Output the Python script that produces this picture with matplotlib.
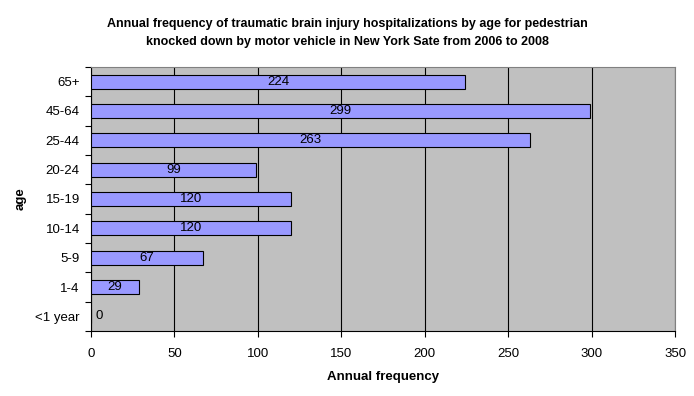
import matplotlib
matplotlib.use("Agg")
import matplotlib.pyplot as plt
import numpy as np

# data, bottom to top as drawn
age_groups = ["<1 year", "1-4", "5-9", "10-14", "15-19", "20-24", "25-44", "45-64", "65+"]
frequency = [0, 29, 67, 120, 120, 99, 263, 299, 224]
x_ticks = [0, 50, 100, 150, 200, 250, 300, 350]

plt.rcParams["font.family"] = ["Liberation Sans", "DejaVu Sans"]

fig = plt.figure(figsize=(6.94, 3.96), dpi=100)
ax = fig.add_axes([0.131, 0.164, 0.842, 0.667])
ax.set_facecolor("#C0C0C0")

y = np.arange(len(age_groups))
ax.barh(y, frequency, height=0.48, color="#9999FF", edgecolor="black", linewidth=0.8, zorder=3)

for yi, v in zip(y, frequency):
    ax.text(max(v / 2, 5), yi, str(v), ha="center", va="center", fontsize=9.5, zorder=4)

ax.set_xlim(0, 350)
ax.set_ylim(-0.5, len(age_groups) - 0.5)
ax.set_xticks(x_ticks)
ax.set_xticklabels([str(t) for t in x_ticks], fontsize=9.5)
ax.set_yticks(y)
ax.set_yticklabels(age_groups, fontsize=9.5)
ax.tick_params(axis="y", length=0, pad=8)
ax.set_yticks(np.arange(-0.5, len(age_groups), 1), minor=True)
ax.tick_params(axis="y", which="minor", length=4, width=0.8, direction="out")
ax.tick_params(axis="x", length=4, width=0.8, direction="out", pad=8)
ax.grid(axis="x", color="black", linewidth=0.8, zorder=1)
for side in ["top", "right"]:
    ax.spines[side].set_color("#808080")
    ax.spines[side].set_linewidth(0.8)
for side in ["left", "bottom"]:
    ax.spines[side].set_linewidth(0.8)

ax.set_xlabel("Annual frequency", fontsize=9.5, fontweight="bold", labelpad=8)
ax.set_ylabel("age", fontsize=9.5, fontweight="bold", labelpad=6)
fig.suptitle("Annual frequency of traumatic brain injury hospitalizations by age for pedestrian\n"
             "knocked down by motor vehicle in New York Sate from 2006 to 2008",
             fontsize=9, fontweight="bold", y=0.955, linespacing=1.7)

fig.savefig("out.png", dpi=100)
